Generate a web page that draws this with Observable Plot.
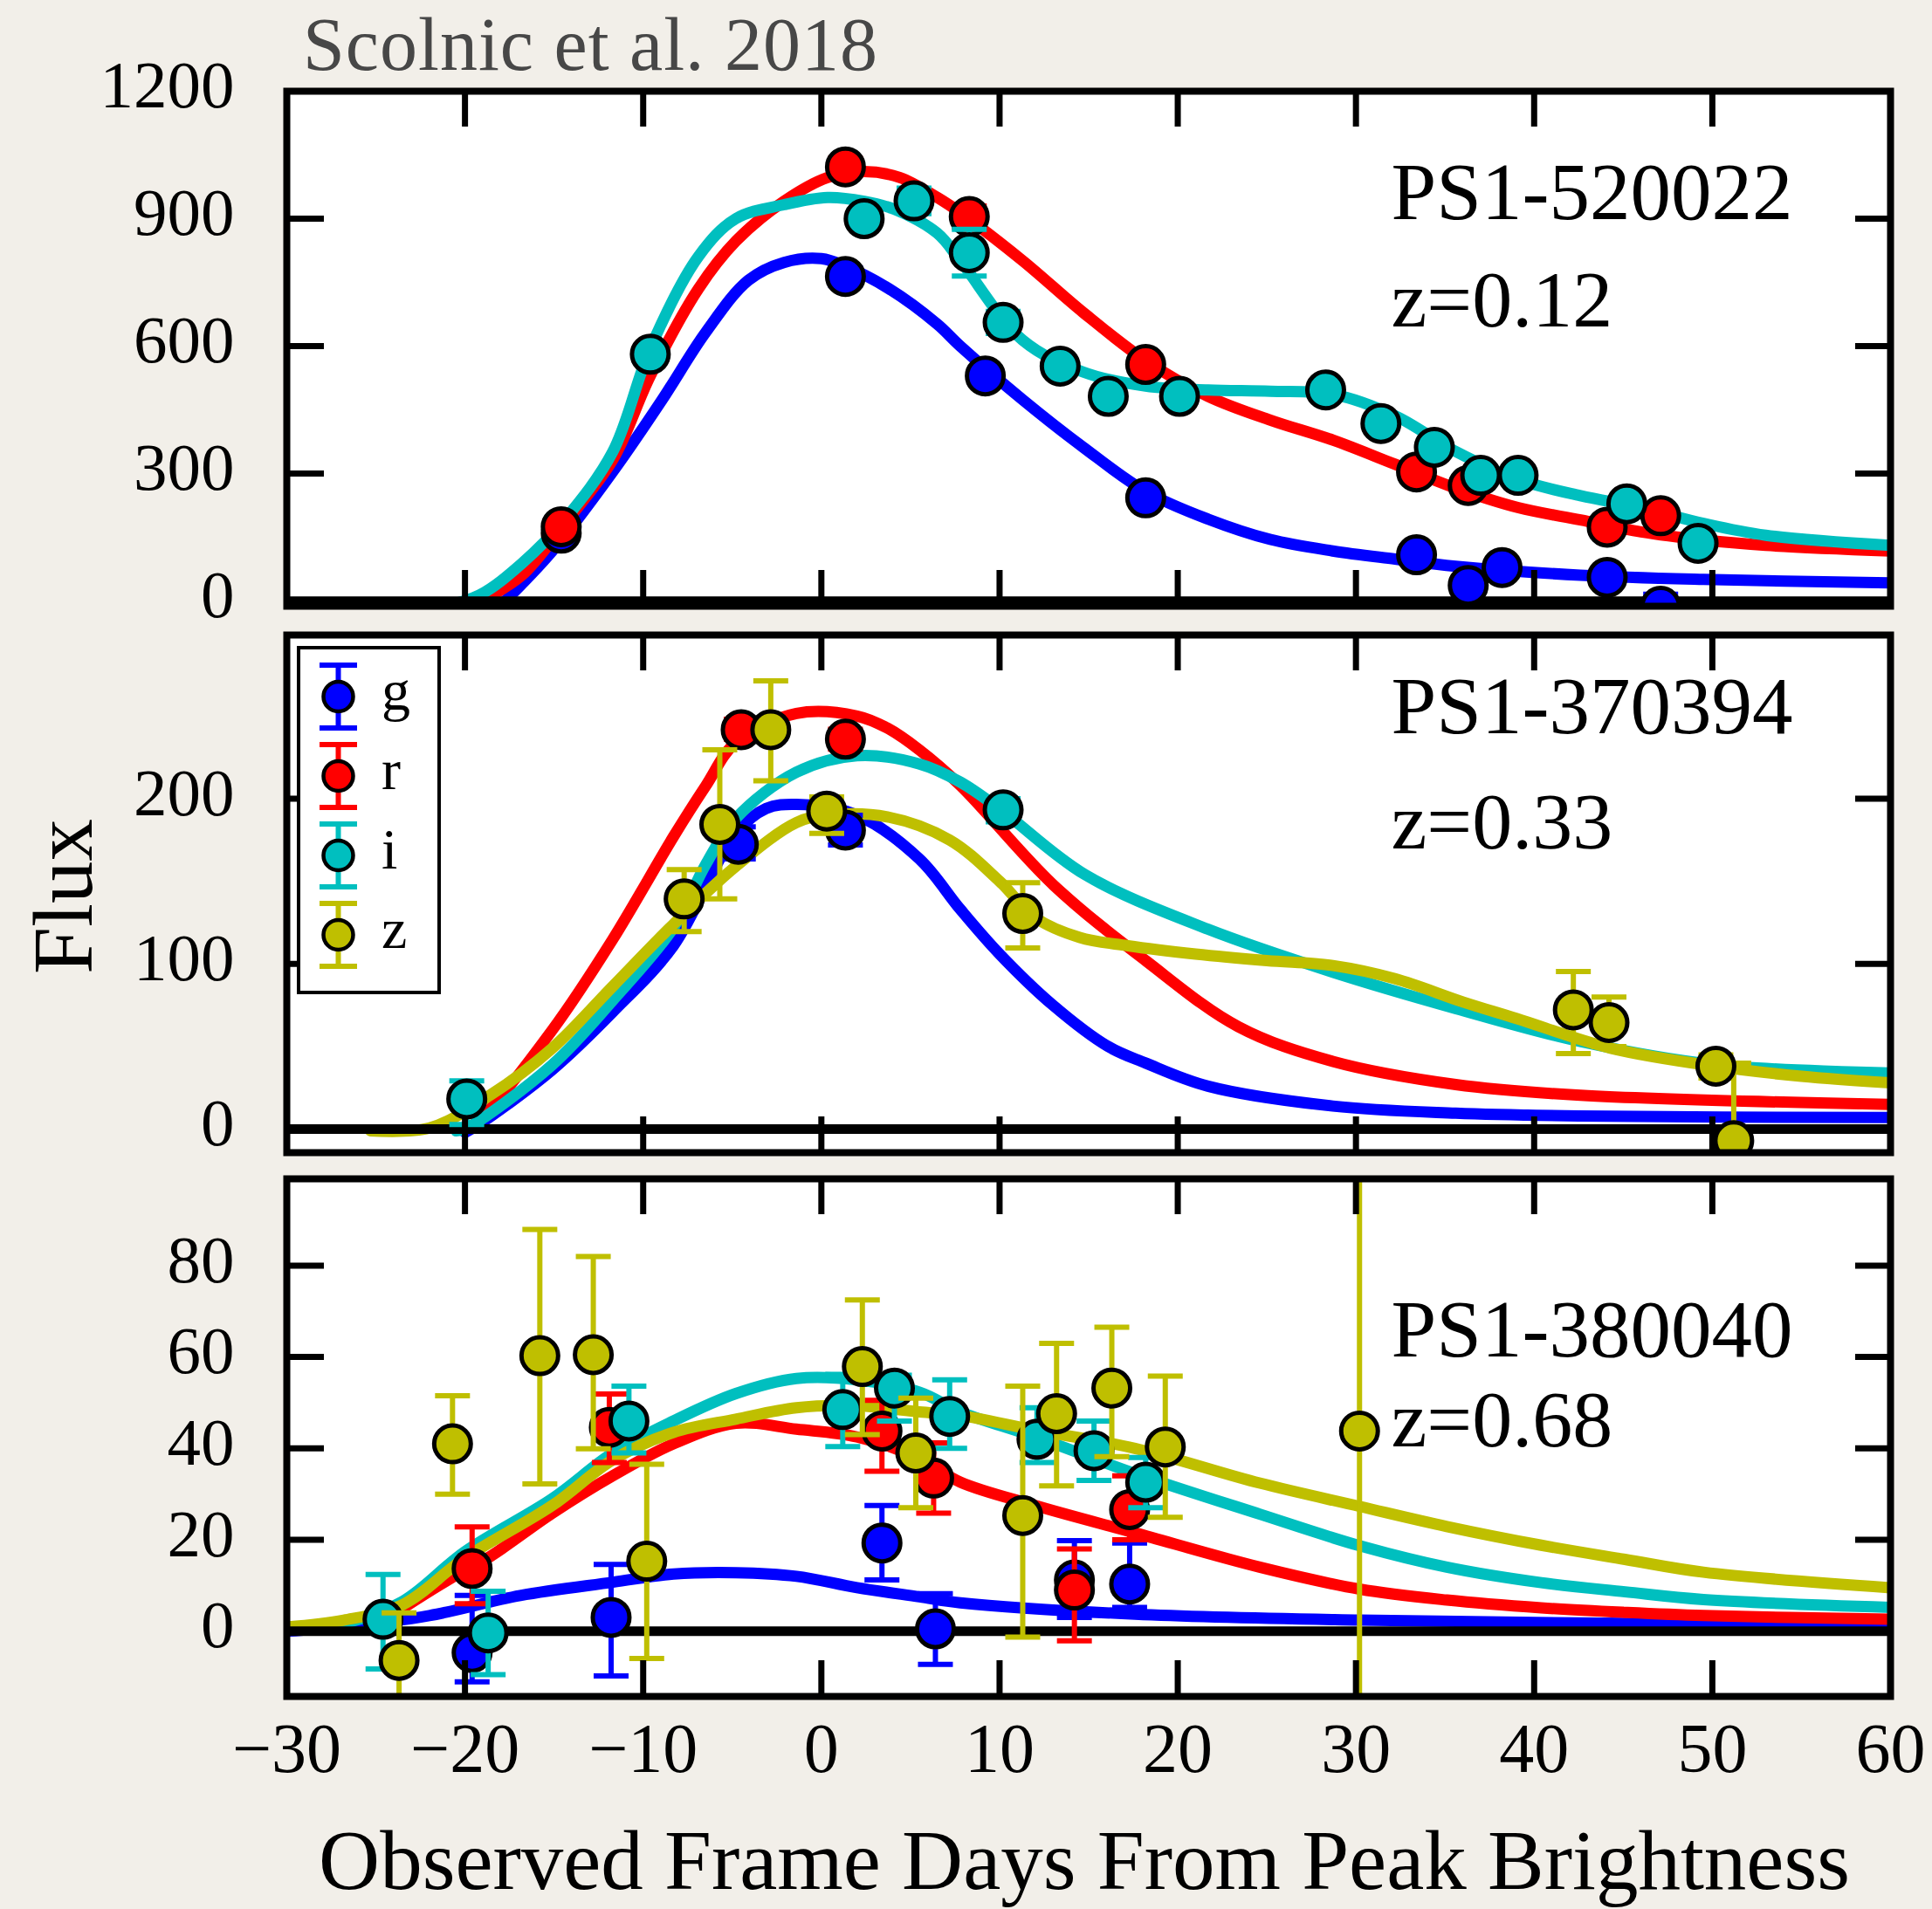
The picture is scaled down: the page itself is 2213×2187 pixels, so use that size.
<!DOCTYPE html>
<html>
<head>
<meta charset="utf-8">
<script src="https://cdn.jsdelivr.net/npm/d3@7"></script>
<script src="https://cdn.jsdelivr.net/npm/@observablehq/plot@0.6"></script>
<style>
  html, body { margin: 0; padding: 0; }
  body { width: 2213px; height: 2187px; background: #f2efe9; position: relative; overflow: hidden; font-family: "Liberation Serif", serif; }
  .panel { position: absolute; left: 0; }
  #overlay { position: absolute; left: 0; top: 0; pointer-events: none; }
</style>
</head>
<body>
<div id="p1" class="panel" style="top:0px"></div>
<div id="p2" class="panel" style="top:700px"></div>
<div id="p3" class="panel" style="top:1330px"></div>
<div id="overlay"></div>
<script>
// ---------------- DATA ----------------
const bands = ["g", "r", "i", "z"];
const bandColors = ["#0000ff", "#ff0000", "#00bfbf", "#bfbf00"];
const xTicks = [-30, -20, -10, 0, 10, 20, 30, 40, 50, 60];
const sourceNames = ["PS1-520022", "PS1-370394", "PS1-380040"];
const redshifts = ["z=0.12", "z=0.33", "z=0.68"];
const p1YTicks = [0, 300, 600, 900, 1200];
const p2YTicks = [0, 100, 200];
const p3YTicks = [0, 20, 40, 60, 80];

// Panel 1 (PS1-520022) model curves
const p1_g_day  = [-18, -15.1, -11.7, -8.95, -6.5, -4.1, -2.1, 0, 1.35, 3.8, 6.5, 7.8, 11.3, 14.7, 18.2, 21.7, 25.2, 28.7, 32.2, 35.6, 42.6, 49.5, 60];
const p1_g_flux = [-10, 118, 305, 473, 632, 755, 797, 806, 788, 735, 652, 600, 474, 362, 258, 193, 145, 118, 99, 82, 61, 51, 43];
const p1_r_day  = [-19.5, -16.8, -14.4, -11.7, -9.6, -6.9, -4.8, -2.1, 0.35, 2.4, 4.4, 6.5, 7.8, 11.3, 14.7, 18.2, 21.7, 25.2, 28.7, 32.2, 35.6, 39.1, 42.6, 46, 49.5, 53, 60];
const p1_r_flux = [-10, 61, 183, 333, 530, 735, 847, 941, 997, 1011, 997, 950, 914, 801, 679, 566, 482, 426, 379, 322, 266, 220, 191, 163, 144, 131, 118];
const p1_i_day  = [-21.5, -19.2, -16.8, -14.4, -11.7, -9.6, -6.9, -4.8, -2.1, 0.35, 2.4, 4.1, 6.5, 7.8, 11.3, 14.7, 18.2, 21.7, 25.2, 28.7, 32.2, 35.6, 39.1, 42.6, 46, 49.5, 53, 60];
const p1_i_flux = [-15, 14, 89, 192, 352, 595, 811, 900, 933, 950, 941, 922, 866, 801, 614, 539, 506, 497, 494, 487, 436, 352, 286, 248, 220, 183, 155, 131];
// Panel 1 observations
const p1_g_obs_day  = [-14.6, 1.35, 9.2, 18.2, 33.4, 36.3, 38.2, 44.1, 47.1];
const p1_g_obs_flux = [160, 764, 530, 243, 109, 37, 79, 56, -12];
const p1_g_obs_lo   = [145, 744, 512, 228, 97, 25, 67, 44, -40];
const p1_g_obs_hi   = [175, 784, 548, 258, 121, 49, 91, 68, 16];
const p1_r_obs_day  = [-14.6, 1.35, 8.3, 18.2, 33.4, 36.3, 44.1, 47.1];
const p1_r_obs_flux = [175, 1022, 905, 557, 304, 272, 174, 201];
const p1_r_obs_lo   = [160, 1002, 880, 540, 290, 258, 160, 187];
const p1_r_obs_hi   = [190, 1042, 930, 574, 318, 286, 188, 215];
const p1_i_obs_day  = [-9.6, 2.4, 5.2, 8.3, 10.2, 13.4, 16.1, 20.1, 28.3, 31.4, 34.4, 37, 39.1, 45.2, 49.2];
const p1_i_obs_flux = [581, 900, 942, 820, 656, 553, 482, 482, 497, 418, 362, 296, 296, 229, 136];
const p1_i_obs_lo   = [566, 880, 912, 765, 630, 538, 468, 468, 482, 404, 348, 282, 282, 216, 123];
const p1_i_obs_hi   = [596, 920, 972, 875, 682, 568, 496, 496, 512, 432, 376, 310, 310, 242, 149];

// Panel 2 (PS1-370394) model curves
const p2_g_day  = [-20, -19.2, -15.1, -11.7, -8.3, -4.8, -3.1, -1.4, 2, 5.5, 7.8, 10, 13, 16.1, 18.2, 21.7, 28.7, 35.6, 42.6, 60];
const p2_g_flux = [-2, 3, 36, 71, 111, 179, 194, 196.5, 190, 163.5, 133, 106, 75, 50, 40, 26, 14, 9.7, 8, 7];
const p2_r_day  = [-20, -19.2, -15.1, -11.7, -8.3, -6.5, -4.8, -1.4, 2, 3.7, 5.5, 7.8, 13, 18.2, 23.4, 28.7, 35.6, 42.6, 60];
const p2_r_flux = [0, 5.5, 60, 115, 177, 207.5, 234, 251.5, 250, 242.7, 229.5, 208, 148, 102, 62, 41, 27, 20.5, 15];
const p2_i_day  = [-20.5, -19.9, -15.1, -11.7, -8.3, -6.5, -4.8, -1.4, 2, 5.5, 7.8, 10.1, 14.8, 21.7, 28.7, 35.6, 42.6, 50.2, 60];
const p2_i_flux = [-1, 0.7, 39, 78, 122, 160, 188, 216, 226, 221, 210, 193, 154, 121, 95, 73, 53, 39, 34];
const p2_z_day  = [-25.3, -22, -18.6, -15.1, -11.7, -8.3, -4.8, -1.4, 0.3, 3.7, 7.2, 10, 12, 14.5, 17.2, 21, 25, 28.7, 32.2, 36, 39, 44.3, 50.2, 55, 60];
const p2_z_flux = [-1, 0.7, 20.5, 49, 86.5, 124, 159, 185.5, 190, 189, 175, 150, 128, 116, 111, 106, 102, 99, 91, 77, 67, 49, 38, 32, 28];
// Panel 2 observations
const p2_g_obs_day  = [-4.66, 1.35];
const p2_g_obs_flux = [172.4, 181];
const p2_g_obs_lo   = [163.5, 172];
const p2_g_obs_hi   = [183, 190];
const p2_r_obs_day  = [-4.5, 1.35];
const p2_r_obs_flux = [241.7, 236];
const p2_r_obs_lo   = [236, 230];
const p2_r_obs_hi   = [248, 242];
const p2_i_obs_day  = [-19.9, 10.2];
const p2_i_obs_flux = [18.3, 193.2];
const p2_i_obs_lo   = [2.8, 186];
const p2_i_obs_hi   = [29.3, 200];
const p2_z_obs_day  = [-7.7, -5.7, -2.84, 0.3, 11.3, 42.2, 44.2, 50.2, 51.2];
const p2_z_obs_flux = [139.3, 184.4, 241.7, 192.5, 130.5, 72.2, 64.5, 38.1, -7];
const p2_z_obs_lo   = [119.5, 139.3, 210.8, 179, 109.6, 45.8, 50, 31, -54];
const p2_z_obs_hi   = [157, 229.5, 271.3, 201, 149.2, 95.4, 80, 45, 40];

// Panel 3 (PS1-380040) model curves
const p3_g_day  = [-30, -26.9, -22, -16.9, -11.7, -8.3, -4.8, -1.4, 2, 5.5, 7.8, 17.6, 30.2, 45.1, 60];
const p3_g_flux = [0, 0.9, 3.4, 7.8, 10.7, 12.5, 12.8, 12, 9.5, 7.5, 6.2, 3.7, 2.4, 1.7, 1.2];
const p3_r_day  = [-25, -23.5, -20, -18.6, -15.1, -11.7, -8.3, -4.8, -1.4, 2, 5.5, 7.8, 12, 17.6, 24.6, 30.2, 35.1, 40.4, 45.1, 49.5, 60];
const p3_r_flux = [1, 5, 13.4, 16.3, 25.8, 34, 41, 45.5, 44.2, 42.5, 37.8, 32.6, 27.5, 21.5, 14, 9.2, 6.8, 5.1, 4.1, 3.4, 2.6];
const p3_i_day  = [-30, -26.8, -23.5, -20, -15.1, -11.7, -8.3, -4.8, -1.4, 2, 5.5, 7.8, 12, 17.6, 24.6, 30.2, 35.1, 40.4, 45.1, 49.5, 60];
const p3_i_flux = [0.9, 1.7, 6.5, 17.4, 29, 39, 46, 52, 55.3, 55, 52.3, 48, 42.5, 34.5, 25.6, 18.7, 14, 10.6, 8.6, 6.9, 5.2];
const p3_z_day  = [-30, -26.8, -23.5, -20, -15.1, -11.7, -8.3, -4.8, -1.4, 2, 5.5, 7.8, 12, 17.6, 24.6, 30.2, 35.1, 40.4, 45.1, 49.5, 60];
const p3_z_flux = [0.9, 2.4, 5.8, 16, 27.5, 37.5, 43.5, 46.4, 48.9, 49.3, 48, 47.2, 44, 40, 32.4, 27.3, 22.9, 18.8, 15.7, 12.9, 9.5];
// Panel 3 observations
const p3_g_obs_day  = [-19.6, -11.8, 3.4, 6.4, 14.2, 17.3];
const p3_g_obs_flux = [-4.7, 3, 19.3, 0.5, 11.2, 10.3];
const p3_g_obs_lo   = [-11.1, -9.8, 11.2, -7.3, 3, 5.2];
const p3_g_obs_hi   = [7.8, 14.6, 27.5, 8.2, 19.8, 19.3];
const p3_r_obs_day  = [-19.6, -11.9, 3.4, 6.3, 14.2, 17.3];
const p3_r_obs_flux = [13.7, 44.6, 43.8, 33.5, 9, 26.6];
const p3_r_obs_lo   = [6, 36.9, 35, 25.8, -2.1, 20];
const p3_r_obs_hi   = [22.8, 51.9, 50.5, 41.2, 18, 34];
const p3_i_obs_day  = [-24.6, -18.7, -10.8, 1.2, 4.1, 7.2, 12.1, 15.3, 18.2];
const p3_i_obs_flux = [2.6, -0.4, 46, 48.5, 53.2, 47, 42, 39.5, 32.6];
const p3_i_obs_lo   = [-8.3, -9.5, 39, 40.4, 46, 40, 36.9, 33, 27];
const p3_i_obs_hi   = [12.4, 8.7, 53.6, 56.2, 56, 55, 48.9, 46, 38];
const p3_z_obs_day  = [-23.7, -20.7, -15.8, -12.8, -9.8, 2.3, 5.3, 11.3, 13.2, 16.3, 19.3, 30.2];
const p3_z_obs_flux = [-6.4, 41, 60.3, 60.5, 15.3, 57.9, 39, 25.3, 47.6, 53.2, 40.3, 43.8];
const p3_z_obs_lo   = [-17, 30, 32.2, 39.9, -6, 43, 27, -1.3, 31.8, 38.2, 24.9, -20];
const p3_z_obs_hi   = [4, 51.5, 87.9, 82, 36.5, 72.5, 51, 53.6, 63, 66.5, 55.8, 110];

// ---------------- BUILD ----------------
const color = Object.fromEntries(bands.map((b, k) => [b, bandColors[k]]));
const curveRows = (days, flux) => days.map((d, k) => ({day: d, flux: flux[k]}));
const obsRows = (days, flux, lo, hi) => days.map((d, k) => ({day: d, flux: flux[k], lo: lo[k], hi: hi[k]}));
const fmtX = d => d < 0 ? "\u2212" + Math.abs(d) : String(d);
const fmtY = d => String(d);

const capSymbol = {
  draw(ctx, size) { const w = Math.sqrt(size / Math.PI); ctx.moveTo(-w, 0); ctx.lineTo(w, 0); }
};

const W = 2213, ML = 328, MR = 48, PW = W - ML - MR;

function makePanel(cfg) {
  const {height, mt, mb, yDomain, yTicks, curves, obs, name, redshift, nameDy, zDy, showX} = cfg;
  const H = height - mt - mb;
  const marks = [Plot.frame({fill: "white", stroke: "none"})];
  for (const b of bands) if (curves[b]) {
    marks.push(Plot.line(curves[b], {x: "day", y: "flux", stroke: color[b], strokeWidth: 13, curve: "catmull-rom", clip: true}));
  }
  marks.push(Plot.ruleY([0], {stroke: "black", strokeWidth: 11}));
  for (const b of bands) if (obs[b]) {
    marks.push(Plot.ruleX(obs[b], {x: "day", y1: "lo", y2: "hi", stroke: color[b], strokeWidth: 6, clip: true}));
    marks.push(Plot.dot(obs[b], {x: "day", y: "lo", symbol: capSymbol, r: 20, fill: "none", stroke: color[b], strokeWidth: 6, clip: true}));
    marks.push(Plot.dot(obs[b], {x: "day", y: "hi", symbol: capSymbol, r: 20, fill: "none", stroke: color[b], strokeWidth: 6, clip: true}));
    marks.push(Plot.dot(obs[b], {x: "day", y: "flux", r: 21, fill: color[b], stroke: "black", strokeWidth: 5, clip: true}));
  }
  marks.push(Plot.tickX(xTicks, {x: d => d, insetBottom: H - 41, stroke: "black", strokeWidth: 7}));
  marks.push(Plot.tickX(xTicks, {x: d => d, insetTop: H - 41, stroke: "black", strokeWidth: 7}));
  marks.push(Plot.tickY(yTicks, {y: d => d, insetRight: PW - 43, stroke: "black", strokeWidth: 7}));
  marks.push(Plot.tickY(yTicks, {y: d => d, insetLeft: PW - 40, stroke: "black", strokeWidth: 7}));
  marks.push(Plot.frame({stroke: "black", strokeWidth: 8}));
  marks.push(Plot.axisY(yTicks, {anchor: "left", tickSize: 0, tickPadding: 60, fontSize: 77, dy: -6, label: null, fill: "black", tickFormat: fmtY}));
  if (showX) marks.push(Plot.axisX(xTicks, {anchor: "bottom", tickSize: 0, tickPadding: 30, fontSize: 80, tickFormat: fmtX, label: null, fill: "black"}));
  marks.push(Plot.text([name], {text: d => d, frameAnchor: "top-left", dx: 1265, dy: nameDy, textAnchor: "start", lineAnchor: "middle", fontSize: 93, fill: "black"}));
  marks.push(Plot.text([redshift], {text: d => d, frameAnchor: "top-left", dx: 1265, dy: zDy, textAnchor: "start", lineAnchor: "middle", fontSize: 92, fill: "black"}));
  return Plot.plot({
    width: W, height,
    marginTop: mt, marginBottom: mb, marginLeft: ML, marginRight: MR,
    x: {domain: [-30, 60], axis: showX ? undefined : null, label: null},
    y: {domain: yDomain, label: null},
    style: {background: "transparent", fontFamily: "'Liberation Serif', serif", color: "black", overflow: "visible"},
    marks
  });
}

const panel1 = makePanel({
  height: 700, mt: 104, mb: 6, yDomain: [-12, 1200], yTicks: p1YTicks,
  curves: {g: curveRows(p1_g_day, p1_g_flux), r: curveRows(p1_r_day, p1_r_flux), i: curveRows(p1_i_day, p1_i_flux)},
  obs: {g: obsRows(p1_g_obs_day, p1_g_obs_flux, p1_g_obs_lo, p1_g_obs_hi),
        r: obsRows(p1_r_obs_day, p1_r_obs_flux, p1_r_obs_lo, p1_r_obs_hi),
        i: obsRows(p1_i_obs_day, p1_i_obs_flux, p1_i_obs_lo, p1_i_obs_hi)},
  name: sourceNames[0], redshift: redshifts[0], nameDy: 117, zDy: 240, showX: false
});
const panel2 = makePanel({
  height: 630, mt: 27, mb: 10, yDomain: [-14.2, 299], yTicks: p2YTicks,
  curves: {g: curveRows(p2_g_day, p2_g_flux), r: curveRows(p2_r_day, p2_r_flux), i: curveRows(p2_i_day, p2_i_flux), z: curveRows(p2_z_day, p2_z_flux)},
  obs: {g: obsRows(p2_g_obs_day, p2_g_obs_flux, p2_g_obs_lo, p2_g_obs_hi),
        r: obsRows(p2_r_obs_day, p2_r_obs_flux, p2_r_obs_lo, p2_r_obs_hi),
        i: obsRows(p2_i_obs_day, p2_i_obs_flux, p2_i_obs_lo, p2_i_obs_hi),
        z: obsRows(p2_z_obs_day, p2_z_obs_flux, p2_z_obs_lo, p2_z_obs_hi)},
  name: sourceNames[1], redshift: redshifts[1], nameDy: 83, zDy: 215, showX: false
});
const panel3 = makePanel({
  height: 857, mt: 20, mb: 244, yDomain: [-14.3, 99], yTicks: p3YTicks,
  curves: {g: curveRows(p3_g_day, p3_g_flux), r: curveRows(p3_r_day, p3_r_flux), i: curveRows(p3_i_day, p3_i_flux), z: curveRows(p3_z_day, p3_z_flux)},
  obs: {g: obsRows(p3_g_obs_day, p3_g_obs_flux, p3_g_obs_lo, p3_g_obs_hi),
        r: obsRows(p3_r_obs_day, p3_r_obs_flux, p3_r_obs_lo, p3_r_obs_hi),
        i: obsRows(p3_i_obs_day, p3_i_obs_flux, p3_i_obs_lo, p3_i_obs_hi),
        z: obsRows(p3_z_obs_day, p3_z_obs_flux, p3_z_obs_lo, p3_z_obs_hi)},
  name: sourceNames[2], redshift: redshifts[2], nameDy: 174, zDy: 277, showX: true
});
document.getElementById("p1").appendChild(panel1);
document.getElementById("p2").appendChild(panel2);
document.getElementById("p3").appendChild(panel3);

// ---------------- OVERLAY: title, axis titles, legend ----------------
const ov = d3.select("#overlay").append("svg").attr("width", W).attr("height", 2187)
  .style("font-family", "'Liberation Serif', serif");
ov.append("text").attr("x", 347).attr("y", 80).attr("font-size", 86).attr("fill", "#474747")
  .attr("letter-spacing", 1).text("Scolnic et al. 2018");
ov.append("text").attr("transform", "translate(105,1027) rotate(-90)").attr("text-anchor", "middle")
  .attr("font-size", 97).attr("fill", "black").text("Flux");
ov.append("text").attr("x", 1242).attr("y", 2164).attr("text-anchor", "middle")
  .attr("font-size", 97).attr("fill", "black").text("Observed Frame Days From Peak Brightness");

const lg = ov.append("g");
lg.append("rect").attr("x", 342).attr("y", 742).attr("width", 161).attr("height", 395)
  .attr("fill", "white").attr("stroke", "black").attr("stroke-width", 4);
bands.forEach((b, k) => {
  const cy = 798 + k * 91, cx = 387.5;
  const g = lg.append("g");
  g.append("line").attr("x1", cx).attr("x2", cx).attr("y1", cy - 36).attr("y2", cy + 36).attr("stroke", color[b]).attr("stroke-width", 6);
  g.append("line").attr("x1", cx - 21.5).attr("x2", cx + 21.5).attr("y1", cy - 36).attr("y2", cy - 36).attr("stroke", color[b]).attr("stroke-width", 6);
  g.append("line").attr("x1", cx - 21.5).attr("x2", cx + 21.5).attr("y1", cy + 36).attr("y2", cy + 36).attr("stroke", color[b]).attr("stroke-width", 6);
  g.append("circle").attr("cx", cx).attr("cy", cy).attr("r", 17).attr("fill", color[b]).attr("stroke", "black").attr("stroke-width", 4.5);
  g.append("text").attr("x", 437).attr("y", cy + 15).attr("font-size", 66).attr("fill", "black").text(b);
});
</script>
</body>
</html>
